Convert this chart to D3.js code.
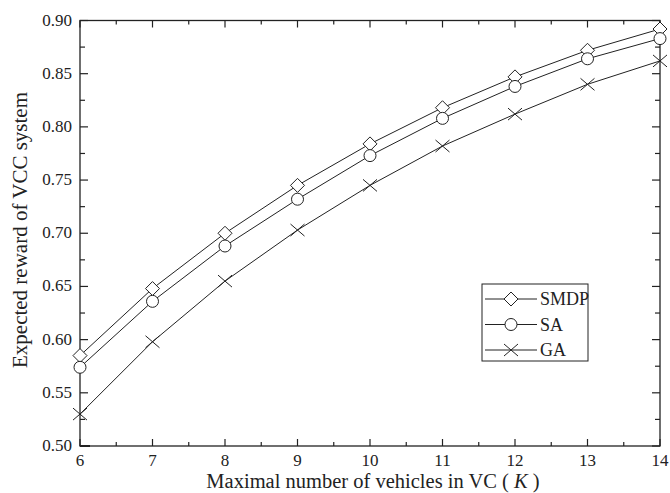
<!DOCTYPE html>
<html><head><meta charset="utf-8">
<script src="https://cdn.jsdelivr.net/npm/d3@7"></script>
<style>body{margin:0;background:#fff;} text{font-family:"Liberation Serif","Times New Roman",serif;fill:#222;}</style>
</head><body><svg id="c" width="670" height="493"></svg>
<script>
const kValues = [6,7,8,9,10,11,12,13,14];
const smdp = [0.585,0.648,0.700,0.745,0.784,0.818,0.847,0.872,0.892];
const sa   = [0.574,0.636,0.688,0.732,0.773,0.808,0.838,0.864,0.883];
const ga   = [0.530,0.598,0.655,0.703,0.745,0.782,0.812,0.840,0.862];
const seriesNames = ["SMDP","SA","GA"];
const yTicks = [0.50,0.55,0.60,0.65,0.70,0.75,0.80,0.85,0.90];
const xTicks = [6,7,8,9,10,11,12,13,14];

const svg = d3.select("#c");
const L=80,R=660,T=20.5,B=446;
const x = d3.scaleLinear().domain([6,14]).range([L,R]);
const y = d3.scaleLinear().domain([0.5,0.9]).range([B,T]);
const ink="#222";

svg.append("rect").attr("x",L).attr("y",T).attr("width",R-L).attr("height",B-T)
  .attr("fill","none").attr("stroke",ink).attr("stroke-width",1.3);

const xMinor = d3.range(6.5,14,1);
const yMinor = d3.range(0.525,0.9,0.05);
function tick(x1,y1,x2,y2){svg.append("line").attr("x1",x1).attr("y1",y1).attr("x2",x2).attr("y2",y2).attr("stroke",ink).attr("stroke-width",1.2);}
xTicks.forEach(v=>{tick(x(v),B,x(v),B-7);tick(x(v),T,x(v),T+7);});
xMinor.forEach(v=>{tick(x(v),B,x(v),B-4);tick(x(v),T,x(v),T+4);});
yTicks.forEach(v=>{tick(L,y(v),L+8,y(v));tick(R,y(v),R-8,y(v));});
yMinor.forEach(v=>{tick(L,y(v),L+5,y(v));tick(R,y(v),R-5,y(v));});
svg.append("line").attr("x1",L).attr("y1",B).attr("x2",L+10).attr("y2",B).attr("stroke",ink).attr("stroke-width",2);

svg.selectAll(".yl").data(yTicks).join("text").attr("x",72).attr("y",d=>y(d)+5)
  .attr("text-anchor","end").attr("font-size",17).text(d=>d.toFixed(2));
svg.selectAll(".xl").data(xTicks).join("text").attr("x",d=>x(d)).attr("y",466)
  .attr("text-anchor","middle").attr("font-size",17).text(d=>d);

const xt = svg.append("text").attr("x",373).attr("y",488).attr("text-anchor","middle").attr("font-size",20.5);
xt.append("tspan").text("Maximal number of vehicles in VC ( ");
xt.append("tspan").attr("font-style","italic").text("K");
xt.append("tspan").text(" )");
svg.append("text").attr("transform","translate(27,230) rotate(-90)").attr("text-anchor","middle")
  .attr("font-size",21).text("Expected reward of VCC system");

function marker(g,type,cx,cy){
  if(type==="SMDP"){
    g.append("path").attr("d",`M${cx},${cy-7}L${cx+7},${cy}L${cx},${cy+7}L${cx-7},${cy}Z`).attr("fill","#fff").attr("stroke",ink).attr("stroke-width",1);
  } else if(type==="SA"){
    g.append("circle").attr("cx",cx).attr("cy",cy).attr("r",6).attr("fill","#fff").attr("stroke",ink).attr("stroke-width",1);
  } else {
    g.append("path").attr("d",`M${cx-7},${cy-6}L${cx+7},${cy+6}M${cx-7},${cy+6}L${cx+7},${cy-6}`).attr("fill","none").attr("stroke",ink).attr("stroke-width",1);
  }
}
const allSeries = [smdp,sa,ga];
const line = d3.line().x((d,i)=>x(kValues[i])).y(d=>y(d));
allSeries.forEach(s=>{
  svg.append("path").datum(s).attr("d",line).attr("fill","none").attr("stroke",ink).attr("stroke-width",1);
});
allSeries.forEach((s,si)=>{
  const g=svg.append("g");
  s.forEach((v,i)=>marker(g,seriesNames[si],x(kValues[i]),y(v)));
});

const lg = svg.append("g");
lg.append("rect").attr("x",482).attr("y",284).attr("width",106).attr("height",77).attr("fill","#fff").attr("stroke",ink).attr("stroke-width",1);
seriesNames.forEach((n,i)=>{
  const yy = 299+i*25.5;
  lg.append("line").attr("x1",485).attr("x2",537).attr("y1",yy).attr("y2",yy).attr("stroke",ink).attr("stroke-width",1);
  marker(lg,n,511,yy);
  lg.append("text").attr("x",540).attr("y",yy+6).attr("font-size",18).text(n);
});
</script></body></html>
